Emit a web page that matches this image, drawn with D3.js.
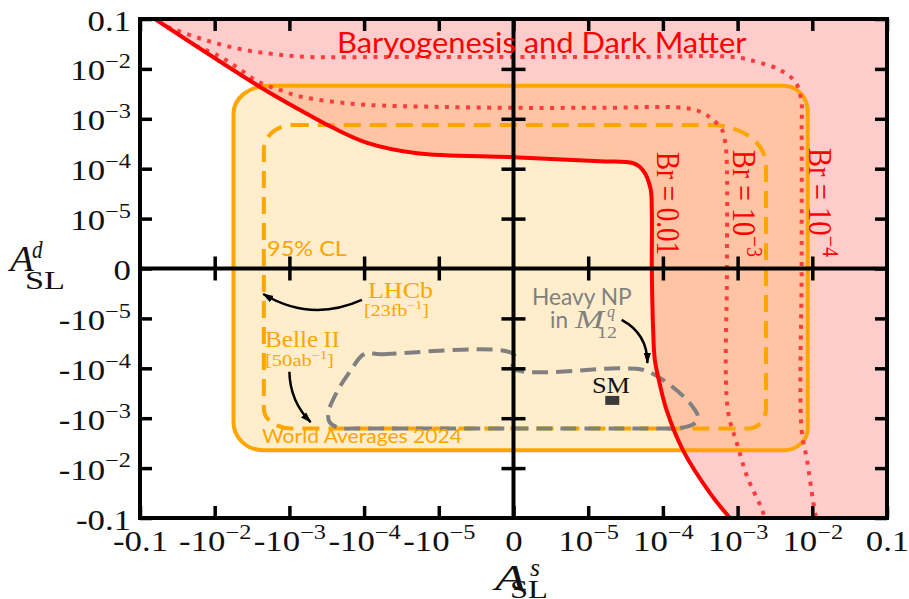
<!DOCTYPE html>
<html>
<head>
<meta charset="utf-8">
<script src="https://cdn.jsdelivr.net/npm/d3@7/dist/d3.min.js"></script>
<style>
html,body{margin:0;padding:0;background:#fff;}
svg{display:block;}
</style>
</head>
<body>
<svg id="chart" width="909" height="599"></svg>
<script>
// ---------------- data ----------------
const tickValues = [-0.1, -1e-2, -1e-3, -1e-4, -1e-5, 0, 1e-5, 1e-4, 1e-3, 1e-2, 0.1];
const xTickLabels = ["-0.1", "-10^{−2}", "-10^{−3}", "-10^{−4}", "-10^{−5}", "0", "10^{−5}", "10^{−4}", "10^{−3}", "10^{−2}", "0.1"];
const yTickLabels = ["-0.1", "-10^{−2}", "-10^{−3}", "-10^{−4}", "-10^{−5}", "0", "10^{−5}", "10^{−4}", "10^{−3}", "10^{−2}", "0.1"];

// Br = 0.01 contour (solid red), [A_SL^s, A_SL^d]
const brSolid = [
  [-0.063, 0.1], [-2.5e-3, 4.4e-3], [-7.2e-4, 1.5e-3], [-2.6e-4, 6.6e-4], [-9.1e-5, 3.3e-4],
  [-1.95e-5, 2.04e-4], [0, 1.7e-4], [1.45e-5, 1.41e-4], [4.0e-5, 1.29e-4], [5.4e-5, 9.3e-5],
  [6.8e-5, 4.1e-5], [7.1e-5, 1.48e-5], [7.1e-5, 0], [7.4e-5, -1.7e-5], [7.8e-5, -6.8e-5],
  [9.1e-5, -2.1e-4], [1.12e-4, -6.9e-4], [1.86e-4, -4.4e-3], [4.3e-4, -3.2e-2], [7.9e-4, -0.1]
];
// Br = 1e-3 contour (dotted)
const brDot3 = [
  [-1.8e-2, 0.0288], [-9.3e-3, 0.019], [-4.9e-3, 0.0105], [-2.6e-3, 5.5e-3], [-1.35e-3, 3.8e-3],
  [-6.8e-4, 2.75e-3], [-2.6e-4, 2.2e-3], [-9.1e-5, 1.9e-3], [-1.2e-5, 1.74e-3], [0, 1.66e-3],
  [1.45e-5, 1.66e-3], [1.86e-4, 1.66e-3], [3.2e-4, 1.38e-3], [4.7e-4, 9.5e-4], [6.2e-4, 6.0e-4],
  [6.9e-4, 2.95e-4], [7.2e-4, 9.3e-5], [7.2e-4, 0], [7.4e-4, -6.9e-4], [9.8e-4, -3.2e-3],
  [1.35e-3, -1.51e-2], [2.14e-3, -6.9e-2], [2.3e-3, -0.1]
];
// Br = 1e-4 contour (dotted)
const brDot4 = [
  [-4.3e-2, 0.069], [-1.35e-2, 0.038], [-4.6e-3, 0.025], [-1.7e-3, 0.020], [-5.8e-4, 0.0174],
  [-3.3e-5, 0.0174], [0, 0.0174], [6.8e-5, 0.0174], [8.7e-4, 0.0174], [1.82e-3, 0.0138],
  [3.7e-3, 9.5e-3], [5.9e-3, 5.5e-3], [7.1e-3, 2.4e-3], [7.2e-3, 6.0e-4], [7.2e-3, 0],
  [7.2e-3, -1.74e-3], [8.5e-3, -6.9e-3], [1.02e-2, -4.37e-2], [1.12e-2, -0.1]
];
// World averages 2024 (solid orange) and 95% CL projection (dashed orange): [min, max]
const worldAvgX = [-5.6e-3, 8.7e-3];
const worldAvgY = [-4.4e-3, 4.6e-3];
const projX = [-2.2e-3, 2.4e-3];
const projY = [-1.6e-3, 7.5e-4];
// Heavy NP in M12 (dashed gray)
const heavyNP = [
  [-1.0e-4, -5.2e-5], [-6e-5, -5.2e-5], [0, -5.2e-5], [0, -1.0e-4], [2.7e-5, -1.0e-4],
  [5.4e-5, -1.07e-4], [1.0e-4, -1.7e-4], [2.3e-4, -5.0e-4], [2.95e-4, -9.5e-4], [2.6e-4, -1.3e-3],
  [1.55e-4, -1.6e-3], [9e-5, -1.6e-3], [-1.5e-4, -1.6e-3], [-2.1e-4, -1.6e-3], [-2.9e-4, -1.2e-3],
  [-3.0e-4, -7.6e-4], [-2.3e-4, -2.95e-4], [-1.55e-4, -1.17e-4]
];
const smPoint = [2.1e-5, -4.4e-4];
// annotation arrows: [x_from, y_from, x_to, y_to]
const arrowsData = [
  [-1.07e-4, -6.3e-6, -2.24e-3, -5.1e-6],
  [-1.0e-3, -1.17e-4, -5.2e-4, -1.2e-3],
  [2.8e-5, -1.07e-5, 6.2e-5, -7.8e-5]
];

// ---------------- scales ----------------
const svg = d3.select("#chart");
const X0 = 140, X1 = 887, Y0 = 19, Y1 = 518;
const linthresh = 1e-5;
const tr = v => { const a = Math.abs(v); return a <= linthresh ? v / linthresh : Math.sign(v) * (1 + Math.log10(a / linthresh)); };
function symScale(range) {
  const lin = d3.scaleLinear().domain([-5, 5]).range(range);
  const s = v => lin(tr(v));
  s.copy = () => symScale(range);
  s.range = () => lin.range();
  s.domain = () => [-0.1, 0.1];
  return s;
}
const xs = symScale([X0, X1]);
const ys = symScale([Y1, Y0]);

const RED = "#ff0000", ORANGE = "#ffa500", GRAY = "#808080", DOT = "#ff3d3d";
const SERIF = "'Liberation Serif', 'DejaVu Serif', serif";
const SANS = "Lato, 'Open Sans', sans-serif";

const defs = svg.append("defs");
defs.append("clipPath").attr("id", "clip").append("rect")
  .attr("x", X0).attr("y", Y0).attr("width", X1 - X0).attr("height", Y1 - Y0);
defs.append("marker").attr("id", "ah").attr("markerUnits", "userSpaceOnUse")
  .attr("viewBox", "0 -5 11 10").attr("refX", 10).attr("refY", 0)
  .attr("markerWidth", 11).attr("markerHeight", 10).attr("orient", "auto")
  .append("path").attr("d", "M0,-3.6L11,0L0,3.6Z").attr("fill", "#000");

const plot = svg.append("g").attr("clip-path", "url(#clip)");
const line = d3.line().x(d => xs(d[0])).y(d => ys(d[1])).curve(d3.curveCatmullRom.alpha(0.5));
const closedLine = d3.line().x(d => xs(d[0])).y(d => ys(d[1])).curve(d3.curveCatmullRomClosed.alpha(0.5));

function roundedRect(x0, y0, x1, y1, r) {
  return `M${x0 + r[0][0]},${y0}H${x1 - r[1][0]}A${r[1][0]},${r[1][1]} 0 0 1 ${x1},${y0 + r[1][1]}` +
    `V${y1 - r[2][1]}A${r[2][0]},${r[2][1]} 0 0 1 ${x1 - r[2][0]},${y1}` +
    `H${x0 + r[3][0]}A${r[3][0]},${r[3][1]} 0 0 1 ${x0},${y1 - r[3][1]}` +
    `V${y0 + r[0][1]}A${r[0][0]},${r[0][1]} 0 0 1 ${x0 + r[0][0]},${y0}Z`;
}
const rr = (xv, yv, r) => roundedRect(xs(xv[0]), ys(yv[1]), xs(xv[1]), ys(yv[0]), r);
const waR = [[35, 28], [24, 26], [24, 22], [30, 28]];
const prR = [[28, 25], [55, 40], [17, 20], [27, 20]];

// red region (baryogenesis)
plot.append("path")
  .attr("d", line(brSolid) + `L${X1 + 10},${Y1 + 10}L${X1 + 10},${Y0 - 10}Z`)
  .attr("fill", "rgba(255,0,0,0.2)");
// orange fill
plot.append("path").attr("d", rr(worldAvgX, worldAvgY, waR)).attr("fill", "rgba(255,165,0,0.2)");
// orange dashed projection
plot.append("path").attr("d", rr(projX, projY, prR)).attr("fill", "none")
  .attr("stroke", ORANGE).attr("stroke-width", 4).attr("stroke-dasharray", "17,9");
// gray dashed heavy NP
plot.append("path").attr("d", closedLine(heavyNP)).attr("fill", "none")
  .attr("stroke", GRAY).attr("stroke-width", 4).attr("stroke-dasharray", "16,8");
// orange solid outline
plot.append("path").attr("d", rr(worldAvgX, worldAvgY, waR)).attr("fill", "none")
  .attr("stroke", ORANGE).attr("stroke-width", 4);
// dotted red contours
[brDot3, brDot4].forEach(d => plot.append("path").attr("d", line(d)).attr("fill", "none")
  .attr("stroke", DOT).attr("stroke-width", 4).attr("stroke-dasharray", "4,6.5"));
// solid red
plot.append("path").attr("d", line(brSolid)).attr("fill", "none").attr("stroke", RED).attr("stroke-width", 4);

// ---------------- axes ----------------
function rich(t, s, size) {
  const parts = s.split(/(\^\{[^}]*\}|_\{[^}]*\})/).filter(p => p.length);
  let shift = 0;
  parts.forEach(p => {
    let m;
    if ((m = p.match(/^\^\{(.*)\}$/))) {
      const up = -size * 0.42;
      t.append("tspan").attr("dy", up - shift).attr("font-size", size * 0.7).text(m[1]);
      shift = up;
    } else if ((m = p.match(/^_\{(.*)\}$/))) {
      const dn = size * 0.25;
      t.append("tspan").attr("dy", dn - shift).attr("font-size", size * 0.7).text(m[1]);
      shift = dn;
    } else {
      const sp = t.append("tspan").text(p);
      if (shift) sp.attr("dy", -shift);
      shift = 0;
    }
  });
}
const TS = 29, TSX = 1.2;
const tickStroke = 3.5;

// bottom frame with labels
svg.append("g").attr("transform", `translate(0,${Y1})`)
  .call(d3.axisBottom(xs).tickValues(tickValues).tickSizeInner(-12).tickSizeOuter(0)
    .tickFormat((d, i) => xTickLabels[i]))
  .call(g => {
    g.select(".domain").remove();
    g.attr("font-family", SERIF).attr("font-size", TS);
    g.selectAll("line").attr("stroke-width", tickStroke);
    g.selectAll("text").each(function () {
      const t = d3.select(this); const s = t.text(); t.text(null);
      t.attr("y", 33).attr("dy", null).attr("transform", `scale(${TSX},1)`).attr("fill", "#111");
      rich(t, s, TS);
    });
  });
// top frame
svg.append("g").attr("transform", `translate(0,${Y0})`)
  .call(d3.axisTop(xs).tickValues(tickValues).tickSizeInner(-12).tickSizeOuter(0).tickFormat(""))
  .call(g => { g.select(".domain").remove(); g.selectAll("line").attr("stroke-width", tickStroke); });
// left frame with labels
svg.append("g").attr("transform", `translate(${X0},0)`)
  .call(d3.axisLeft(ys).tickValues(tickValues).tickSizeInner(-12).tickSizeOuter(0)
    .tickFormat((d, i) => yTickLabels[i]))
  .call(g => {
    g.select(".domain").remove();
    g.attr("font-family", SERIF).attr("font-size", TS);
    g.selectAll("line").attr("stroke-width", tickStroke);
    g.selectAll("text").each(function () {
      const t = d3.select(this); const s = t.text(); t.text(null);
      t.attr("x", 0).attr("y", 11).attr("dy", null).attr("text-anchor", "end")
        .attr("transform", `translate(-9,0) scale(${TSX},1)`).attr("fill", "#111");
      rich(t, s, TS);
    });
  });
// right frame
svg.append("g").attr("transform", `translate(${X1},0)`)
  .call(d3.axisRight(ys).tickValues(tickValues).tickSizeInner(-12).tickSizeOuter(0).tickFormat(""))
  .call(g => { g.select(".domain").remove(); g.selectAll("line").attr("stroke-width", tickStroke); });

// zero axes
const innerTicks = tickValues.filter(v => v !== 0 && Math.abs(v) !== 0.1);
svg.append("line").attr("x1", X0).attr("x2", X1).attr("y1", ys(0)).attr("y2", ys(0))
  .attr("stroke", "#000").attr("stroke-width", 4);
svg.append("line").attr("x1", xs(0)).attr("x2", xs(0)).attr("y1", Y0).attr("y2", Y1)
  .attr("stroke", "#000").attr("stroke-width", 4);
svg.append("g").attr("transform", `translate(0,${ys(0)})`)
  .call(d3.axisBottom(xs).tickValues(innerTicks).tickSize(12).tickFormat(""))
  .call(g => { g.select(".domain").remove(); g.selectAll("line").attr("y1", -12).attr("stroke-width", tickStroke); });
svg.append("g").attr("transform", `translate(${xs(0)},0)`)
  .call(d3.axisLeft(ys).tickValues(innerTicks).tickSize(12).tickFormat(""))
  .call(g => { g.select(".domain").remove(); g.selectAll("line").attr("x1", 12).attr("stroke-width", tickStroke); });

// frame
svg.append("rect").attr("x", X0).attr("y", Y0).attr("width", X1 - X0).attr("height", Y1 - Y0)
  .attr("fill", "none").attr("stroke", "#000").attr("stroke-width", 4);

// ---------------- annotations ----------------
// SM point
svg.append("rect").attr("x", xs(smPoint[0]) - 7).attr("y", ys(smPoint[1]) - 4.5)
  .attr("width", 14).attr("height", 9).attr("fill", "#3a3a3a");

// arrows
const arrowRad = [-0.26, 0.2, -0.3];
arrowsData.forEach((a, i) => {
  const sx = xs(a[0]), sy = ys(a[1]), ex = xs(a[2]), ey = ys(a[3]);
  const mx = (sx + ex) / 2, my = (sy + ey) / 2, dx = ex - sx, dy = ey - sy;
  const cx = mx + arrowRad[i] * (-dy), cy = my + arrowRad[i] * dx;
  svg.append("path").attr("d", `M${sx},${sy}Q${cx},${cy} ${ex},${ey}`)
    .attr("fill", "none").attr("stroke", "#000").attr("stroke-width", 2.5).attr("marker-end", "url(#ah)");
});

function txt(x, y, family, size, fill, width, content, style) {
  const g = svg.append("g").attr("transform", `translate(${x},${y})`);
  const t = g.append("text").attr("font-family", family).attr("font-size", size).attr("fill", fill);
  if (style) t.attr("font-style", style);
  rich(t, content, size);
  if (width) {
    const w = t.node().getBBox().width;
    t.attr("transform", `scale(${width / w},1)`);
  }
  return t;
}
function txtRot(x, y, family, size, fill, length, sx, content) {
  const g = svg.append("g").attr("transform", `translate(${x},${y})`);
  const t = g.append("text").attr("font-family", family).attr("font-size", size).attr("fill", fill);
  rich(t, content, size);
  const w = t.node().getBBox().width;
  t.attr("transform", `scale(${sx},${length / w}) rotate(90)`);
  return t;
}

txt(337, 53, SANS, 29, RED, 410, "Baryogenesis and Dark Matter");
txt(267, 256, SANS, 22, ORANGE, 80, "95% CL");
txt(262, 443, SANS, 19, ORANGE, 200, "World Averages 2024");
txt(368, 298, SERIF, 24, ORANGE, 65, "LHCb");
txt(364, 316, SERIF, 17, ORANGE, 65, "[23fb^{−1}]");
txt(265, 347, SERIF, 24, ORANGE, 75, "Belle\u2009II");
txt(265, 366, SERIF, 17, ORANGE, 69, "[50ab^{−1}]");
txt(532, 305, SANS, 23, GRAY, 100, "Heavy NP");
txt(550, 328, SANS, 23, GRAY, 18, "in");
txt(575, 328, SERIF, 25, GRAY, 32, "M", "italic");
txt(607, 317, SERIF, 16, GRAY, null, "q", "italic");
txt(597, 338, SERIF, 16, GRAY, 20, "12");
txt(592, 393, SERIF, 24, "#111", 38, "SM");

txtRot(657, 152, SERIF, 26, RED, 103, 1.3, "Br = 0.01");
txtRot(733, 150, SERIF, 26, RED, 107, 1.3, "Br = 10^{−3}");
txtRot(809, 148, SERIF, 26, RED, 109, 1.3, "Br = 10^{−4}");

// axis titles
txt(10, 271, SERIF, 36, "#111", 27, "A", "italic");
txt(32, 258, SERIF, 25, "#111", 11, "d", "italic");
txt(25, 289, SERIF, 25, "#111", 40, "SL");
txt(495, 590, SERIF, 36, "#111", 35, "A", "italic");
txt(530, 576, SERIF, 25, "#111", 10, "s", "italic");
txt(510, 598, SERIF, 25, "#111", 38, "SL");
</script>
</body>
</html>
